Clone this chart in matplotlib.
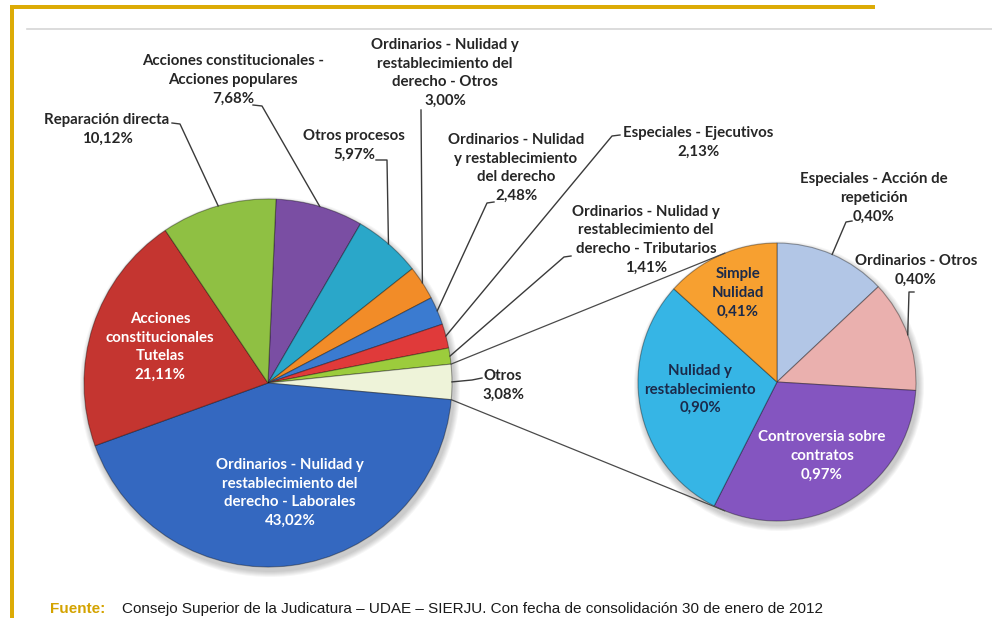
import numpy as np
import matplotlib.pyplot as plt
from matplotlib.patches import Circle, Rectangle

W, H = 992, 618

# main pie (clockwise from the top)
main_labels = ["Acciones constitucionales -\nAcciones populares", "Otros procesos",
               "Ordinarios - Nulidad y\nrestablecimiento del\nderecho - Otros",
               "Ordinarios - Nulidad\ny restablecimiento\ndel derecho",
               "Especiales - Ejecutivos",
               "Ordinarios - Nulidad y\nrestablecimiento del\nderecho - Tributarios",
               "Otros",
               "Ordinarios - Nulidad y\nrestablecimiento del\nderecho - Laborales",
               "Acciones\nconstitucionales\nTutelas",
               "Reparación directa"]
main_values = [7.68, 5.97, 3.00, 2.48, 2.13, 1.41, 3.08, 43.02, 21.11, 10.12]

# secondary pie: breakdown of "Otros"
sub_labels = ["Especiales - Acción de\nrepetición", "Ordinarios - Otros",
              "Controversia sobre\ncontratos", "Nulidad y\nrestablecimiento",
              "Simple\nNulidad"]
sub_values = [0.40, 0.40, 0.97, 0.90, 0.41]

source = "Consejo Superior de la Judicatura – UDAE – SIERJU. Con fecha de consolidación 30 de enero de 2012"

main_colors = ['#7a4ea3', '#2aa7c9', '#f28c28', '#3b7bd0', '#e03a3a',
               '#9ccc3c', '#eef3d9', '#3468c0', '#c43530', '#8fc043']
sub_colors = ['#b2c6e6', '#eab0ae', '#8455c0', '#36b5e5', '#f7a030']

# layout in pixels (x from left, y from top)
main_c, main_r = (268, 383), 184
sub_c, sub_r = (777, 382), 139
main_text = [(233, 80), (354, 145), (445, 73), (516, 168), (698, 142.5),
             (646, 239.5), (503, 385), (290, 493), (160, 347), (107, 129.5)]
main_inside = [7, 8]
main_leader = {0: [(253, 105), (262, 106)], 1: [(376, 160), (387, 160)],
               2: [(421, 110), (421, 110)], 3: [(494, 202), (487, 203)],
               4: [(620, 135), (612, 136)], 5: [(571, 256), (564, 257)],
               6: [(482, 378), (472, 380)], 9: [(172, 123), (180, 124)]}
sub_text = [(874, 198), (916, 270.5), (822, 456), (700, 389.5), (738, 293)]
sub_inside = [2, 3, 4]
sub_leader = {0: [(852, 221), (846, 222)], 1: [(914, 292), (909, 292)]}
sub_textcol = {2: 'white', 3: '#1b2a4a', 4: '#1b2a4a'}

FONT = ['Lato', 'DejaVu Sans']
FS = 10.8
LS = 1.42


def Y(y):
    return H - y


def pct(v):
    return ('%.2f' % v).replace('.', ',') + '%'


def rim(c, r, ang):
    a = np.radians(ang)
    return c[0] + r * np.cos(a), Y(c[1]) + r * np.sin(a)


fig = plt.figure(figsize=(W / 100, H / 100), dpi=100)
ax = fig.add_axes([0, 0, 1, 1])

# soft shadows behind the pies
for c, r in [(main_c, main_r), (sub_c, sub_r)]:
    for i in range(6):
        ax.add_patch(Circle((c[0] + 2, Y(c[1]) - 4), r + 1 + i, color='#000000',
                            alpha=0.035, lw=0, zorder=0))

wprops = dict(edgecolor=(0, 0, 0, 0.35), linewidth=0.8)
mw, _ = ax.pie(main_values, colors=main_colors, startangle=87.5, counterclock=False,
               center=(main_c[0], Y(main_c[1])), radius=main_r, frame=True,
               wedgeprops=wprops)
sw, _ = ax.pie(sub_values, colors=sub_colors, startangle=90, counterclock=False,
               center=(sub_c[0], Y(sub_c[1])), radius=sub_r, frame=True,
               wedgeprops=wprops)

txt = dict(ha='center', va='center', fontsize=FS, fontweight='bold',
           family=FONT, linespacing=LS)

for i, lab in enumerate(main_labels):
    s = lab + '\n' + pct(main_values[i])
    x, y = main_text[i]
    col = 'white' if i in main_inside else '#262626'
    ax.text(x, Y(y), s, color=col, zorder=5, **txt)
    if i in main_leader:
        w = mw[i]
        p = rim(main_c, main_r, (w.theta1 + w.theta2) / 2)
        (x0, y0), (x1, y1) = main_leader[i]
        ax.plot([x0, x1, p[0]], [Y(y0), Y(y1), p[1]], color='#3a3a3a', lw=1.0, zorder=4)

for i, lab in enumerate(sub_labels):
    s = lab + '\n' + pct(sub_values[i])
    x, y = sub_text[i]
    col = sub_textcol.get(i, '#262626')
    ax.text(x, Y(y), s, color=col, zorder=5, **txt)
    if i in sub_leader:
        w = sw[i]
        p = rim(sub_c, sub_r, (w.theta1 + w.theta2) / 2)
        (x0, y0), (x1, y1) = sub_leader[i]
        ax.plot([x0, x1, p[0]], [Y(y0), Y(y1), p[1]], color='#3a3a3a', lw=1.0, zorder=4)

# connector lines: from the edges of "Otros" to tangents of the second pie
otros = mw[main_labels.index("Otros")]
cx, cy = sub_c[0], Y(sub_c[1])
for ang, sign in [(otros.theta2, 1), (otros.theta1, -1)]:
    px, py = rim(main_c, main_r, ang)
    d = np.hypot(px - cx, py - cy)
    phi = np.degrees(np.arctan2(py - cy, px - cx))
    t = phi - sign * np.degrees(np.arccos(sub_r / d))
    qx, qy = rim(sub_c, sub_r, t)
    ax.plot([px, qx], [py, qy], color='#4a4a4a', lw=0.9, zorder=4)

# page frame
ax.add_patch(Rectangle((10, 0), 4, Y(5), color='#dcab06', lw=0, zorder=6))
ax.add_patch(Rectangle((10, Y(9)), 865, 4, color='#dcab06', lw=0, zorder=6))
ax.plot([27, W], [Y(28.5), Y(28.5)], color='#d6d6d6', lw=1.2, zorder=1)

# source note at the bottom edge
ax.text(50, Y(616), "Fuente:", color='#d4a300', fontweight='bold', fontsize=11,
        family=['Liberation Sans Narrow', 'Liberation Sans'], ha='left', va='bottom')
ax.text(122, Y(616), source, color='#1a1a1a', fontsize=11,
        family=['Liberation Sans Narrow', 'Liberation Sans'], ha='left', va='bottom')

ax.set_xlim(0, W)
ax.set_ylim(0, H)
ax.set_aspect('equal')
ax.axis('off')

fig.savefig('out.png', dpi=100)
